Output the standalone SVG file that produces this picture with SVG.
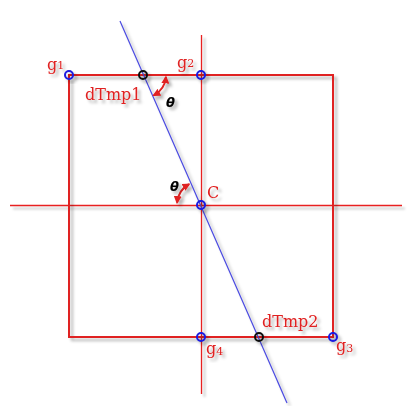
<svg xmlns="http://www.w3.org/2000/svg" width="411" height="406" viewBox="0 0 411 406">
<defs>
<filter id="sh" x="-20%" y="-20%" width="140%" height="140%">
<feDropShadow dx="3" dy="3" stdDeviation="1.5" flood-color="#000" flood-opacity="0.3"/>
</filter>
<filter id="bl" x="-5%" y="-5%" width="110%" height="110%">
<feGaussianBlur stdDeviation="1"/>
</filter>
<marker id="ah" viewBox="0 0 10 10" refX="8" refY="5" markerWidth="4" markerHeight="4" orient="auto-start-reverse" markerUnits="strokeWidth">
<path d="M0,0 L10,5 L0,10 z" fill="#e02020"/>
</marker>
<style>
.sq{fill:none;stroke:#e02020;stroke-width:2}
.ax{stroke:#e82020;stroke-width:1.3}
.axs{stroke:#000;stroke-opacity:0.18;stroke-width:2}
.bl{stroke:#4a4ae0;stroke-width:1.2}
.pt{fill:none;stroke:#1a1ae0;stroke-width:2}
.px{fill:none;stroke:#111;stroke-width:2}
.lb{font-family:"DejaVu Serif",serif;font-size:16px;fill:#e02020}
.sb{font-size:11px}
.th{font-family:"DejaVu Sans",sans-serif;font-size:13px;font-weight:bold;font-style:italic;fill:#000}
.arc{fill:none;stroke:#e02020;stroke-width:2}
</style>
</defs>
<rect width="411" height="406" fill="#fff"/>
<g id="connectors">
<g filter="url(#bl)">
<line class="axs" x1="13" y1="208.5" x2="405" y2="208.5"/>
<line class="axs" x1="204.5" y1="38" x2="204.5" y2="397"/>
</g>
<line class="ax" x1="10" y1="205.5" x2="402" y2="205.5"/>
<line class="ax" x1="201.5" y1="35" x2="201.5" y2="394"/>
<g filter="url(#sh)">
<rect class="sq" x="69" y="75" width="264" height="262"/>
<line class="bl" x1="120" y1="21" x2="287" y2="403"/>
<path class="arc" d="M165.9,77 A23,23 0 0 1 153.8,95.3" marker-start="url(#ah)" marker-end="url(#ah)"/>
<path class="arc" d="M189,184.2 A24,24 0 0 0 177.1,202.5" marker-start="url(#ah)" marker-end="url(#ah)"/>
</g>
</g>
<g id="g1" filter="url(#sh)">
<circle class="pt" cx="69" cy="75" r="4"/>
<text class="lb" x="47" y="70">g<tspan class="sb" dy="-1">1</tspan></text>
</g>
<g id="g2" filter="url(#sh)">
<circle class="pt" cx="201" cy="75" r="4"/>
<text class="lb" x="177" y="68">g<tspan class="sb" dy="-1">2</tspan></text>
</g>
<g id="dTmp1" filter="url(#sh)">
<circle class="px" cx="143" cy="75" r="4"/>
<text class="lb" x="85" y="100">dTmp1</text>
<text class="th" x="166" y="107">θ</text>
</g>
<g id="C" filter="url(#sh)">
<circle class="pt" cx="201" cy="205" r="4"/>
<text class="lb" x="207" y="198">C</text>
<text class="th" x="170" y="191">θ</text>
</g>
<g id="dTmp2" filter="url(#sh)">
<circle class="px" cx="259" cy="337" r="4"/>
<text class="lb" x="262" y="327">dTmp2</text>
</g>
<g id="g4" filter="url(#sh)">
<circle class="pt" cx="201" cy="337" r="4"/>
<text class="lb" x="206" y="354">g<tspan class="sb" dy="1">4</tspan></text>
</g>
<g id="g3" filter="url(#sh)">
<circle class="pt" cx="333" cy="337" r="4"/>
<text class="lb" x="336" y="351">g<tspan class="sb" dy="1">3</tspan></text>
</g>
</svg>
